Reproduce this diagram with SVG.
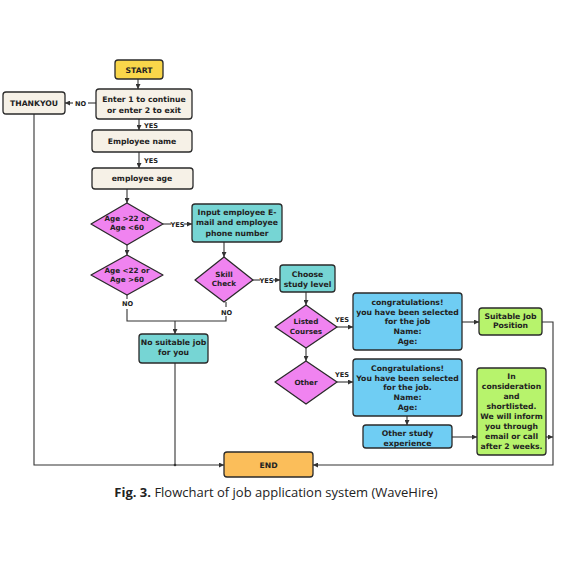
<svg xmlns="http://www.w3.org/2000/svg" width="561" height="561" viewBox="0 0 561 561">
<style>
.b{stroke:#2a2a2a;stroke-width:1.3}
.cream{fill:#f6f1e7}
.pink{fill:#f083f0}
.teal{fill:#76d5d4}
.blue{fill:#6fcdf3}
.green{fill:#b7f36c}
.t{font-family:"DejaVu Sans","Liberation Sans",sans-serif;font-weight:bold;font-size:7.7px;fill:#222;text-anchor:middle}
.d{font-size:7.2px}
.l{font-family:"DejaVu Sans","Liberation Sans",sans-serif;font-weight:bold;font-size:6.6px;fill:#222;text-anchor:middle}
.c{fill:none;stroke:#333;stroke-width:1.1}
.cap{font-family:"Open Sans","Liberation Sans",sans-serif;font-size:13px;fill:#222;text-anchor:middle}
</style>
<defs>
<marker id="a" viewBox="0 0 6 6" refX="6" refY="3" markerWidth="5" markerHeight="5" orient="auto" markerUnits="userSpaceOnUse">
<path d="M0,0 L6,3 L0,6 z" fill="#333"/>
</marker>
</defs>
<rect width="561" height="561" fill="#fff"/>

<g id="connectors">
<path class="c" d="M138,79 V89" marker-end="url(#a)"/>
<path class="c" d="M96,103 H88"/>
<path class="c" d="M73,103 H65" marker-end="url(#a)"/>
<text class="l" x="80.5" y="105.5">NO</text>
<path class="c" d="M139,119 V130" marker-end="url(#a)"/>
<text class="l" x="151" y="128">YES</text>
<path class="c" d="M139,152 V168" marker-end="url(#a)"/>
<text class="l" x="151" y="163">YES</text>
<path class="c" d="M127,189 V203" marker-end="url(#a)"/>
<path class="c" d="M163,224 H171"/>
<text class="l" x="177.5" y="226.5">YES</text>
<path class="c" d="M184,224 H192" marker-end="url(#a)"/>
<path class="c" d="M127,245 V255" marker-end="url(#a)"/>
<path class="c" d="M224,242 V257" marker-end="url(#a)"/>
<path class="c" d="M253,280 H260"/>
<text class="l" x="266.5" y="282.5">YES</text>
<path class="c" d="M273,280 H280" marker-end="url(#a)"/>
<path class="c" d="M127,295 V299"/>
<text class="l" x="127.5" y="306">NO</text>
<path class="c" d="M127,309 V321 H226 V316"/>
<path class="c" d="M226,302 V307"/>
<text class="l" x="226.5" y="314.5">NO</text>
<path class="c" d="M175,321 V334" marker-end="url(#a)"/>
<path class="c" d="M306,292 V305" marker-end="url(#a)"/>
<path class="c" d="M337,327 H353" marker-end="url(#a)"/>
<text class="l" x="342" y="322">YES</text>
<path class="c" d="M306,348 V361" marker-end="url(#a)"/>
<path class="c" d="M337,382 H353" marker-end="url(#a)"/>
<text class="l" x="342" y="377">YES</text>
<path class="c" d="M462,322 H479" marker-end="url(#a)"/>
<path class="c" d="M407,416 V425" marker-end="url(#a)"/>
<path class="c" d="M452,437 H477" marker-end="url(#a)"/>
<path class="c" d="M542,322 H553 V465 H313" marker-end="url(#a)"/>
<path class="c" d="M546,437 H553" marker-end="url(#a)"/>
<path class="c" d="M34,114 V465 H224" marker-end="url(#a)"/>
<path class="c" d="M175,363 V465"/>
<circle cx="175" cy="465" r="1.3" fill="#333"/>
</g>

<g id="start">
<rect class="b" x="115" y="60" width="48" height="19" rx="3" fill="#f9d64a"/>
<text class="t" x="139" y="72.5">START</text>
</g>
<g id="enter">
<rect class="b cream" x="96" y="89" width="96" height="30" rx="3"/>
<text class="t" x="144" y="102">Enter 1 to continue</text>
<text class="t" x="144" y="113">or enter 2 to exit</text>
</g>
<g id="thankyou">
<rect class="b cream" x="3" y="92" width="62" height="22" rx="3"/>
<text class="t" x="34" y="105.5">THANKYOU</text>
</g>
<g id="empname">
<rect class="b cream" x="92" y="130" width="100" height="22" rx="3"/>
<text class="t" x="142" y="143.5">Employee name</text>
</g>
<g id="empage">
<rect class="b cream" x="92" y="168" width="101" height="21" rx="3"/>
<text class="t" x="142" y="181">employee age</text>
</g>
<g id="age1">
<polygon class="b pink" points="127,203 163,224 127,245 91,224" stroke-linejoin="round"/>
<text class="t d" x="127" y="221">Age &gt;22 or</text>
<text class="t d" x="127" y="230">Age &lt;60</text>
</g>
<g id="age2">
<polygon class="b pink" points="127,255 163,275 127,295 91,275" stroke-linejoin="round"/>
<text class="t d" x="127" y="272.5">Age &lt;22 or</text>
<text class="t d" x="127" y="281.5">Age &gt;60</text>
</g>
<g id="input">
<rect class="b teal" x="192" y="204" width="90" height="38" rx="3"/>
<text class="t" x="237" y="214.5">Input employee E-</text>
<text class="t" x="237" y="225">mail and employee</text>
<text class="t" x="237" y="235.5">phone number</text>
</g>
<g id="skill">
<polygon class="b pink" points="224,257 253,280 224,302 195,280" stroke-linejoin="round"/>
<text class="t d" x="224" y="277">Skill</text>
<text class="t d" x="224" y="286">Check</text>
</g>
<g id="choose">
<rect class="b teal" x="280" y="265" width="55" height="27" rx="3"/>
<text class="t" x="307.5" y="276.5">Choose</text>
<text class="t" x="307.5" y="286.5">study level</text>
</g>
<g id="nosuitable">
<rect class="b teal" x="139" y="334" width="69" height="29" rx="3"/>
<text class="t" x="173.5" y="345">No suitable job</text>
<text class="t" x="173.5" y="355">for you</text>
</g>
<g id="listed">
<polygon class="b pink" points="306,305 337,327 306,348 275,327" stroke-linejoin="round"/>
<text class="t d" x="306" y="324">Listed</text>
<text class="t d" x="306" y="333.5">Courses</text>
</g>
<g id="other">
<polygon class="b pink" points="306,361 337,382 306,404 275,382" stroke-linejoin="round"/>
<text class="t d" x="306" y="385">Other</text>
</g>
<g id="congrats1">
<rect class="b blue" x="353" y="293" width="109" height="57" rx="3"/>
<text class="t" x="407.5" y="304.5">congratulations!</text>
<text class="t" x="407.5" y="314.5">you have been selected</text>
<text class="t" x="407.5" y="324">for the job</text>
<text class="t" x="407.5" y="333.5">Name:</text>
<text class="t" x="407.5" y="343.5">Age:</text>
</g>
<g id="congrats2">
<rect class="b blue" x="353" y="359" width="109" height="57" rx="3"/>
<text class="t" x="407.5" y="370.5">Congratulations!</text>
<text class="t" x="407.5" y="380.5">You have been selected</text>
<text class="t" x="407.5" y="390">for the job.</text>
<text class="t" x="407.5" y="399.5">Name:</text>
<text class="t" x="407.5" y="410">Age:</text>
</g>
<g id="otherstudy">
<rect class="b blue" x="363" y="425" width="89" height="23" rx="3"/>
<text class="t" x="407.5" y="435.5">Other study</text>
<text class="t" x="407.5" y="446">experience</text>
</g>
<g id="suitable">
<rect class="b green" x="479" y="308" width="63" height="27" rx="3"/>
<text class="t" x="510.5" y="318.5">Suitable Job</text>
<text class="t" x="510.5" y="328">Position</text>
</g>
<g id="consideration">
<rect class="b green" x="477" y="368" width="69" height="87" rx="3"/>
<text class="t" x="511.5" y="378.5">In</text>
<text class="t" x="511.5" y="388.5">consideration</text>
<text class="t" x="511.5" y="398.5">and</text>
<text class="t" x="511.5" y="408.5">shortlisted.</text>
<text class="t" x="511.5" y="419">We will inform</text>
<text class="t" x="511.5" y="429">you through</text>
<text class="t" x="511.5" y="439">email or call</text>
<text class="t" x="511.5" y="448.5">after 2 weeks.</text>
</g>
<g id="end">
<rect class="b" x="224" y="452" width="89" height="25" rx="3" fill="#fbbe5a"/>
<text class="t" x="268.5" y="467.5">END</text>
</g>
<text class="cap" x="276" y="497"><tspan font-weight="bold">Fig. 3.</tspan> Flowchart of job application system (WaveHire)</text>
</svg>
